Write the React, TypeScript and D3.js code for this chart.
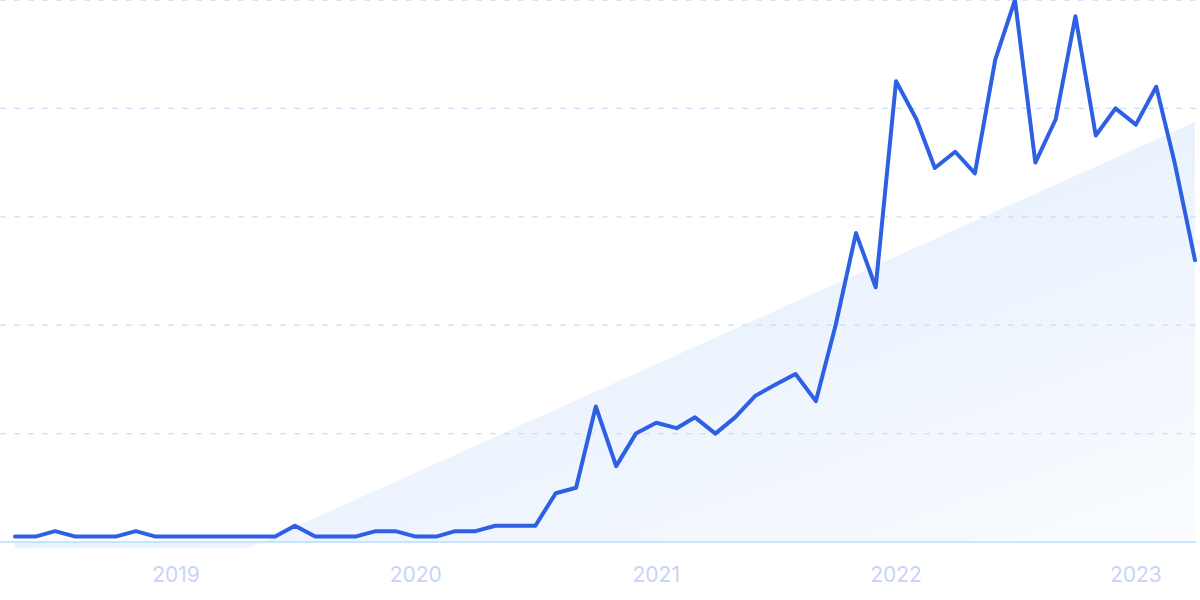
import React from "react";
import * as d3 from "d3";

const startMonth = "2018-05";
const values: number[] = [
  1, 1, 2, 1, 1, 1, 2, 1, 1, 1, 1, 1, 1, 1, 3, 1, 1, 1, 2, 2,
  1, 1, 2, 2, 3, 3, 3, 9, 10, 25, 14, 20, 22, 21, 23, 20, 23, 27, 29, 31,
  26, 40, 57, 47, 85, 78, 69, 72, 68, 89, 100, 70, 78, 97, 75, 80, 77, 84, 70, 52,
];
const yearTicks: string[] = ["2019", "2020", "2021", "2022", "2023"];
const gridValues: number[] = [20, 40, 60, 80, 100];

const W = 1200;
const H = 600;

export default function App() {
  const parse = d3.timeParse("%Y-%m");
  const start = parse(startMonth) as Date;
  const dates = values.map((_, i) => d3.timeMonth.offset(start, i));
  const x = d3
    .scaleTime()
    .domain([dates[0], dates[dates.length - 1]])
    .range([15, 1195]);
  const y = d3.scaleLinear().domain([0, 100]).range([542, 0]);

  const line = d3
    .line<number>()
    .x((_, i) => x(dates[i]))
    .y((d) => y(d))
    .curve(d3.curveLinear);

  const baseY = y(0);
  const x0 = x(dates[0]);
  const x1 = x(dates[dates.length - 1]);
  // decorative shading wedge
  const wedge = [
    [x0, baseY],
    [x0, baseY + 6],
    [248, baseY + 6],
    [x1, y(77.5)],
    [x1, baseY],
  ];
  const wedgePath = "M" + wedge.map((p) => p.join(",")).join("L") + "Z";

  return (
    <svg
      width={W}
      height={H}
      style={{ position: "absolute", left: 0, top: 0, background: "#fff" }}
    >
      <defs>
        <linearGradient id="shade" x1="0" y1="0" x2="1" y2="1">
          <stop offset="0" stopColor="#e0ebfb" />
          <stop offset="0.5" stopColor="#eaf2fd" />
          <stop offset="1" stopColor="#fafcff" />
        </linearGradient>
      </defs>
      <path d={wedgePath} fill="url(#shade)" fillRule="nonzero" />
      {gridValues.map((g) => (
        <line
          key={g}
          x1={0}
          x2={1196}
          y1={y(g)}
          y2={y(g)}
          stroke="#c9def9"
          strokeWidth={1.3}
          strokeDasharray="6,8"
        />
      ))}
      <line x1={0} x2={1196} y1={baseY} y2={baseY} stroke="#b6dffb" strokeWidth={1.6} />
      <path
        d={line(values) || ""}
        fill="none"
        stroke="#2d60e2"
        strokeWidth={4}
        strokeLinejoin="round"
        strokeLinecap="round"
      />
      {yearTicks.map((t) => (
        <text
          key={t}
          x={x(new Date(+t, 0, 1))}
          y={582}
          textAnchor="middle"
          fontFamily="Inter, 'Open Sans', sans-serif"
          fontSize={21}
          fill="#c8d4f5"
        >
          {t}
        </text>
      ))}
    </svg>
  );
}
